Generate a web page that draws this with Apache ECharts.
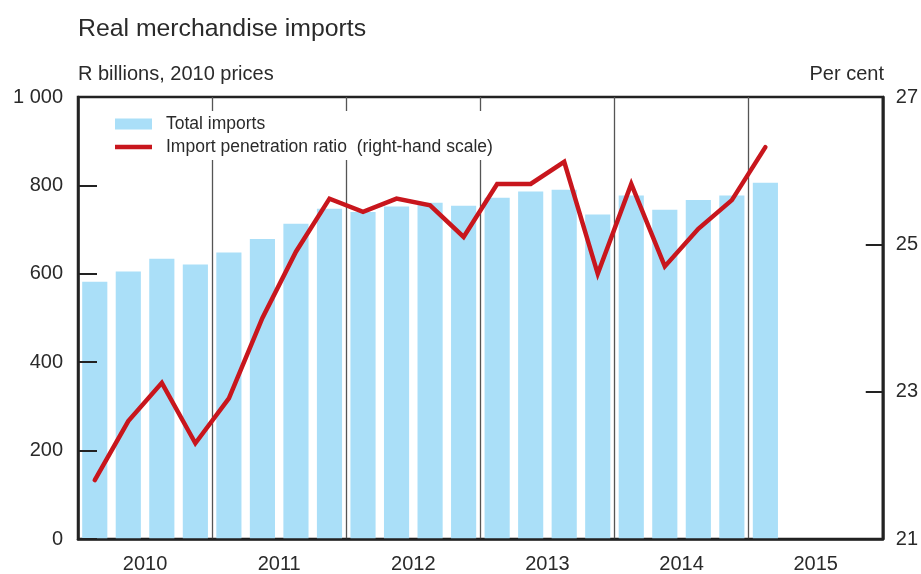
<!DOCTYPE html>
<html>
<head>
<meta charset="utf-8">
<script src="https://cdn.jsdelivr.net/npm/echarts@6/dist/echarts.min.js"></script>
<style>html,body{margin:0;padding:0;background:#fff}#c{width:921px;height:574px}</style>
</head>
<body>
<div id="c"></div>
<script>
const quarters = [
  '2010Q1','2010Q2','2010Q3','2010Q4','2011Q1','2011Q2','2011Q3','2011Q4',
  '2012Q1','2012Q2','2012Q3','2012Q4','2013Q1','2013Q2','2013Q3','2013Q4',
  '2014Q1','2014Q2','2014Q3','2014Q4','2015Q1','2015Q2','2015Q3','2015Q4'
];
const years = ['2010','2011','2012','2013','2014','2015'];
const totalImports = [582,605,634,621,648,679,713,747,740,752,761,754,772,786,790,734,777,745,767,777,806];
const penetrationRatio = [21.80,22.60,23.12,22.30,22.91,24.00,24.90,25.62,25.44,25.62,25.53,25.10,25.82,25.82,26.12,24.60,25.82,24.70,25.21,25.60,26.32];
const leftTicks = [0,200,400,600,800,1000];
const rightTicks = [21,23,25,27];

const FONT = 'Liberation Sans';
const TXT = '#2a2a2a';
const chart = echarts.init(document.getElementById('c'), null, {renderer:'canvas'});
chart.setOption({
  animation:false,
  backgroundColor:'#fff',
  textStyle:{fontFamily:FONT},
  title:[
    {text:'Real merchandise imports', left:73, top:12, textStyle:{fontFamily:FONT,fontSize:24.8,fontWeight:'normal',color:TXT}},
    {text:'R billions, 2010 prices', left:73, top:59, textStyle:{fontFamily:FONT,fontSize:20,fontWeight:'normal',color:TXT}},
    {text:'Per cent', right:32, top:59, textStyle:{fontFamily:FONT,fontSize:20,fontWeight:'normal',color:TXT}}
  ],
  legend:{
    orient:'vertical', left:109, top:111, padding:[4,6,4,6], itemGap:5,
    backgroundColor:'#fff', itemWidth:37, itemHeight:11,
    textStyle:{fontFamily:FONT,fontSize:17.5,color:TXT,padding:[0,0,0,9]},
    data:[
      {name:'Total imports', icon:'rect'},
      {name:'Import penetration ratio  (right-hand scale)', icon:'path://M0,0H37V4.6H0Z'}
    ],
    z:10
  },
  grid:{left:78,right:38,top:97,bottom:34,show:true,borderColor:'#222',borderWidth:2.5,backgroundColor:'transparent'},
  xAxis:[
    {type:'category', data:quarters, position:'bottom', boundaryGap:true, z:5,
     axisLine:{show:true,lineStyle:{color:'#222',width:2.5}}, axisTick:{show:false}, axisLabel:{show:false}, splitLine:{show:false}},
    {type:'category', data:years, position:'bottom', boundaryGap:true,
     axisLine:{show:false}, axisTick:{show:false},
     axisLabel:{show:true,fontFamily:FONT,fontSize:20,color:TXT,margin:15},
     splitLine:{show:true,lineStyle:{color:'#555',width:1.3}}}
  ],
  yAxis:[
    {type:'value', min:0, max:1000, interval:200, position:'left', z:5,
     axisLine:{show:true,lineStyle:{color:'#222',width:2.5}},
     axisTick:{show:true,inside:true,length:19,lineStyle:{color:'#222',width:2}},
     axisLabel:{fontFamily:FONT,fontSize:20,color:TXT,margin:15,formatter:v=>String(v).replace(/\B(?=(\d{3})+(?!\d))/g,' ')},
     splitLine:{show:false}},
    {type:'value', min:21, max:27, interval:2, position:'right', z:5,
     axisLine:{show:true,lineStyle:{color:'#222',width:2.5}},
     axisTick:{show:true,inside:true,length:17,lineStyle:{color:'#222',width:2}},
     axisLabel:{fontFamily:FONT,fontSize:20,color:TXT,margin:13},
     splitLine:{show:false}}
  ],
  series:[
    {name:'Total imports', type:'bar', xAxisIndex:0, yAxisIndex:0, data:totalImports,
     barCategoryGap:'25%', itemStyle:{color:'#aadff8'}, z:2},
    {name:'Import penetration ratio  (right-hand scale)', type:'line', xAxisIndex:0, yAxisIndex:1, data:penetrationRatio,
     symbol:'none', lineStyle:{color:'#c8161d',width:4.5,cap:'round',join:'miter'}, itemStyle:{color:'#c8161d'}, z:3}
  ]
});
</script>
</body>
</html>
